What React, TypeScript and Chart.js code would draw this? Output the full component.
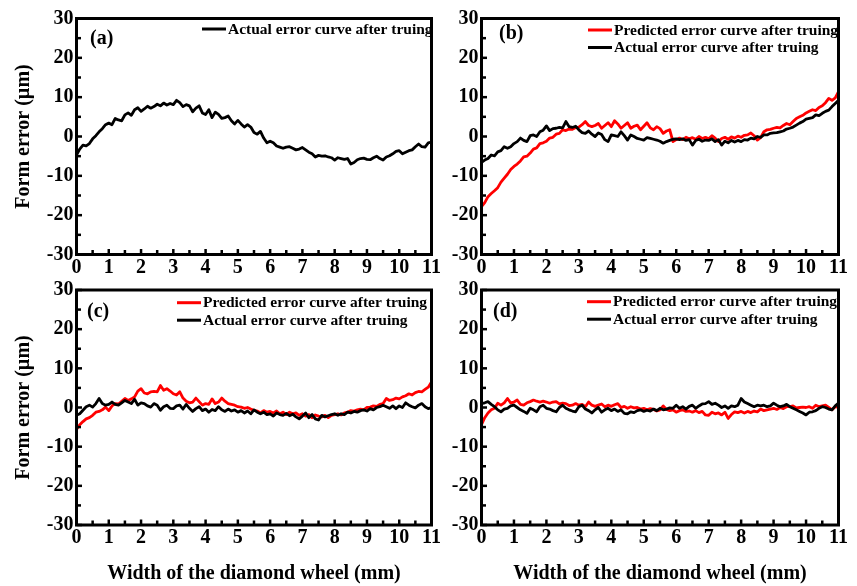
import React, { useEffect, useRef } from "react";
import { Chart, registerables } from "chart.js";

Chart.register(...registerables);

// ---------------- data ----------------
const xMm = [
  0, 0.1, 0.2, 0.3, 0.4, 0.5, 0.6, 0.7, 0.8, 0.9,
  1, 1.1, 1.2, 1.3, 1.4, 1.5, 1.6, 1.7, 1.8, 1.9,
  2, 2.1, 2.2, 2.3, 2.4, 2.5, 2.6, 2.7, 2.8, 2.9,
  3, 3.1, 3.2, 3.3, 3.4, 3.5, 3.6, 3.7, 3.8, 3.9,
  4, 4.1, 4.2, 4.3, 4.4, 4.5, 4.6, 4.7, 4.8, 4.9,
  5, 5.1, 5.2, 5.3, 5.4, 5.5, 5.6, 5.7, 5.8, 5.9,
  6, 6.1, 6.2, 6.3, 6.4, 6.5, 6.6, 6.7, 6.8, 6.9,
  7, 7.1, 7.2, 7.3, 7.4, 7.5, 7.6, 7.7, 7.8, 7.9,
  8, 8.1, 8.2, 8.3, 8.4, 8.5, 8.6, 8.7, 8.8, 8.9,
  9, 9.1, 9.2, 9.3, 9.4, 9.5, 9.6, 9.7, 9.8, 9.9,
  10, 10.1, 10.2, 10.3, 10.4, 10.5, 10.6, 10.7, 10.8, 10.9,
  11,
];

const aActual = [
  -4.7, -3.2, -2.2, -2.4, -1.8, -0.6, 0.2, 1.2, 2.0, 3.0,
  3.4, 3.0, 4.6, 4.2, 4.0, 5.5, 6.0, 5.4, 6.8, 7.3,
  6.4, 7.0, 7.7, 7.2, 7.6, 8.2, 7.8, 8.5, 8.0, 8.4,
  8.1, 9.2, 8.6, 7.6, 8.1, 7.8, 6.3, 7.2, 7.8, 6.0,
  5.6, 6.8, 4.8, 6.2, 5.6, 4.6, 4.8, 5.2, 4.0, 3.2,
  4.1, 3.2, 2.4, 3.0, 2.4, 1.0, 0.6, 1.3, -0.4, -1.6,
  -1.2, -1.6, -2.4, -2.7, -3.0, -2.7, -2.6, -3.0, -3.4, -3.2,
  -2.8, -3.4, -4.0, -4.4, -5.2, -4.8, -5.0, -4.9, -5.2, -5.4,
  -6.0, -5.4, -5.6, -5.8, -5.6, -7.0, -6.6, -5.9, -5.6, -5.5,
  -5.8, -5.9, -5.4, -5.0, -5.6, -6.0, -5.2, -4.9, -4.4, -3.8,
  -3.6, -4.4, -4.0, -3.6, -3.4, -2.6, -1.9, -2.6, -2.7, -1.6,
  -1.4,
];

const bPredicted = [
  -17.8, -16.8, -15.3, -14.5, -13.8, -13.0, -11.6, -10.6, -9.6, -8.4,
  -7.6, -7.0, -6.2, -5.2, -5.0, -4.2, -3.2, -2.9, -1.8, -1.6,
  -1.2, -0.4, -0.2, 0.6, 0.8, 1.7, 1.5, 1.9, 1.8, 2.3,
  2.4, 3.0, 3.8, 2.8, 2.5, 2.8, 3.3, 2.1, 2.8, 3.5,
  2.5, 4.0, 3.2, 2.1, 2.8, 3.5, 2.1, 2.6, 2.9, 1.7,
  2.6, 3.5, 2.2, 1.7, 2.5, 2.0, 0.8, 1.4, 1.7, -1.3,
  -0.8, -0.4, -0.8, -0.2, -0.6, -0.3, -0.7, 0.0, -0.5, -0.2,
  -0.6, 0.2, -0.4, -1.3, -0.5, -0.2, -0.7, -0.1, -0.4, 0.1,
  -0.2, 0.3, 0.4, 0.9, 0.2, -0.9, -0.3, 1.2, 1.7, 1.8,
  2.1, 2.3, 2.2, 2.8, 3.3, 3.0, 3.8, 4.6, 5.0, 5.4,
  6.0, 6.4, 6.8, 6.6, 7.4, 7.8, 8.6, 9.7, 9.2, 9.8,
  11.4,
];

const bActual = [
  -6.6, -6.0, -5.6, -4.7, -4.9, -3.9, -3.6, -2.6, -3.0, -2.6,
  -1.8, -1.3, -0.4, -1.0, -1.3, 0.2, 0.4, 0.0, 1.2, 1.6,
  2.7, 1.5, 2.0, 2.1, 2.3, 2.2, 3.8, 2.5, 2.3, 2.6,
  1.7, 1.0, 0.8, 1.4, 0.6, 0.0, 0.9, 0.5, -0.8, -1.3,
  0.4, 0.2, 0.0, 1.2, 0.2, -0.9, 0.4, 0.0, -0.5, -0.7,
  -0.9, -0.3, -0.5, -0.7, -0.9, -1.2, -1.7, -1.3, -1.0, -0.7,
  -0.6, -0.8, -0.6, -1.0, -0.8, -2.2, -1.0, -0.7, -1.2, -0.9,
  -1.0, -0.6, -1.3, -0.8, -2.2, -1.2, -1.6, -1.0, -1.4, -1.0,
  -1.3, -0.8, -0.9, -0.4, -0.6, 0.0, -0.2, 0.4, 0.4, 0.8,
  0.9, 1.0, 1.2, 1.4, 1.9, 2.1, 2.4, 2.9, 3.4, 3.8,
  4.4, 4.6, 4.8, 5.5, 5.3, 5.9, 6.4, 6.7, 7.6, 8.4,
  9.2,
];

const cPredicted = [
  -5.6, -4.4, -3.6, -2.9, -2.6, -2.0, -1.2, -1.0, -0.6, 0.1,
  -0.8, 0.4, 1.0, 0.9, 1.6, 2.3, 1.8, 2.2, 2.7, 4.2,
  4.8, 3.7, 3.5, 4.0, 4.1, 4.0, 5.6, 4.4, 4.8, 4.2,
  3.5, 3.2, 4.0, 2.4, 1.6, 1.2, 1.4, 2.4, 1.5, 0.6,
  1.0, 0.8, 2.2, 1.0, 1.4, 2.4, 1.6, 1.0, 0.8, 0.6,
  0.2, 0.1, -0.2, 0.0, -0.4, -0.7, -0.9, -1.4, -0.8, -1.2,
  -1.0, -1.4, -0.9, -1.6, -1.2, -1.8, -1.2, -1.6, -1.4, -2.0,
  -1.6, -2.2, -1.8, -2.6, -1.9, -2.2, -2.4, -2.0, -2.6, -2.0,
  -1.8, -1.6, -1.9, -1.4, -1.2, -0.8, -0.9, -0.6, -0.4, -0.6,
  0.0, 0.1, 0.4, 0.3, 0.8, 1.0, 2.3, 1.8, 2.0, 2.4,
  2.2, 2.7, 3.0, 3.5, 3.2, 3.8, 4.1, 4.0, 4.6, 5.2,
  6.5,
];

const cActual = [
  -2.0, -1.6, -0.7, 0.2, 0.6, 0.1, 1.0, 2.3, 1.0, 0.6,
  0.8, 1.4, 0.8, 0.6, 1.2, 1.8, 1.4, 1.0, 2.1, 0.6,
  1.2, 1.0, 0.4, 0.1, 1.0, 0.6, -0.7, 0.2, 0.6, -0.2,
  -0.3, 0.4, 0.6, -0.4, 0.8, -0.2, -1.0, -0.3, 0.2, -0.8,
  -0.4, -1.2, -0.5, -0.8, 0.2, -0.6, -1.0, -0.4, -0.9, -0.6,
  -1.2, -0.8, -1.4, -0.9, -1.6, -0.6, -1.2, -1.6, -1.2, -1.8,
  -1.6, -2.2, -1.4, -1.8, -2.0, -1.5, -2.1, -1.7, -2.4, -2.9,
  -2.2, -1.4, -2.6, -1.8, -2.9, -3.2, -2.0, -2.4, -2.1, -1.8,
  -1.6, -2.0, -1.6, -1.8, -1.2, -1.4, -1.0, -1.2, -0.8, -0.6,
  -0.9, -0.3, -0.6, 0.0, 0.2, 0.6, 0.2, -0.2, 0.4, -0.3,
  0.4, 0.0, 1.2, 0.6, 0.2, -0.1, 0.6, 1.0, 0.2, -0.3,
  0.0,
];

const dPredicted = [
  -4.4, -2.6, -1.4, -0.6, -0.2, 1.1, 0.6, 1.2, 2.3, 1.2,
  1.4, 1.9, 0.8, 0.6, 1.2, 1.5, 1.9, 1.6, 1.4, 1.6,
  1.4, 1.1, 1.4, 1.5, 0.9, 1.1, 1.0, 0.5, 0.6, 1.0,
  0.6, 0.8, 0.2, 1.4, 0.6, 0.3, 0.6, 0.9, 0.2, 0.6,
  0.3, 0.7, 1.0, 0.0, 0.3, -0.2, 0.2, -0.1, 0.0, -0.4,
  -0.2, -0.6, -0.3, -0.5, -0.9, -0.6, 0.4, -0.5, -0.8, -0.6,
  -1.2, -0.8, -0.6, -1.0, -0.9, -1.2, -0.8, -1.3, -1.0, -1.9,
  -2.0, -1.2, -1.6, -1.4, -1.9, -1.2, -2.8, -1.8, -1.1, -1.3,
  -1.0, -1.4, -1.0, -1.3, -0.9, -1.1, -0.4, -0.8, -0.6, -0.4,
  -0.2, -0.5, 0.0, -0.3, 0.2, 0.2, 0.4, -0.1, 0.0, 0.1,
  0.0, 0.2, -0.2, 0.6, 0.2, 0.4, 0.6, 0.0, -0.6, 0.2,
  0.0,
];

const dActual = [
  1.0, 1.2, 1.5, 0.8, 0.2, -0.6, -1.1, -0.4, -0.2, 0.4,
  0.6, 0.0, -0.6, -1.0, -1.5, -0.2, -0.6, -1.1, 0.2, 0.6,
  -0.2, -0.4, -0.8, -1.1, 0.0, 0.6, -0.2, -0.6, -0.9, -1.1,
  0.2, 0.6, -0.4, -0.8, -1.4, -0.6, 0.0, -1.2, -0.6, -0.2,
  -0.8, -0.4, -1.0, -0.6, -1.5, -1.6, -1.1, -1.3, -0.8, -0.6,
  -1.0, -0.7, -0.9, -0.4, -0.8, -0.2, -0.6, -0.4, -0.1, -0.2,
  0.6, -0.2, 0.2, -0.4, 0.3, 0.6, -0.2, 0.4, 0.9, 1.0,
  1.5, 0.8, 1.1, 0.6, 0.0, 0.4, -0.2, 0.4, 0.2, 0.6,
  2.3, 1.4, 1.0, 0.6, 0.2, 0.6, 0.4, 0.6, 0.2, 0.4,
  1.1, 0.6, 0.2, 0.4, 0.8, 0.2, -0.2, -0.6, -1.0, -1.4,
  -1.9, -1.2, -1.1, -0.8, -0.2, 0.2, 0.0, -0.4, -0.6, 0.4,
  1.1,
];

const xTickLabels = [0, 1, 2, 3, 4, 5, 6, 7, 8, 9, 10, 11];
const xMinorTicks = [0.5, 1.5, 2.5, 3.5, 4.5, 5.5, 6.5, 7.5, 8.5, 9.5, 10.5];
const yTickLabels = [-30, -20, -10, 0, 10, 20, 30];
const yMinorTicks = [-25, -15, -5, 5, 15, 25];

const panelLabels = ["(a)", "(b)", "(c)", "(d)"];
const predictedLabel = "Predicted error curve after truing";
const actualLabel = "Actual error curve after truing";
const xTitle = "Width of the diamond wheel (mm)";
const yTitle = "Form error (\u00b5m)";

// ---------------- layout / styling ----------------
const FONT = "'Liberation Serif', 'Times New Roman', serif";
const RED = "#ff0000";
const BLACK = "#000000";

type Series = { name: string; values: number[]; color: string; order: number };
type PanelSpec = {
  label: string;
  series: Series[];
  left: number;
  top: number;
  width: number;
  height: number;
  padTop: number;
  padRight: number;
  yWidth: number;
  xHeight: number;
  showYTitle: boolean;
  showXTitle: boolean;
  legendDx: number;
  legendDy: number;
  labelDx: number;
  labelDy: number;
};

const panels: PanelSpec[] = [
  {
    label: panelLabels[0],
    series: [{ name: actualLabel, values: aActual, color: BLACK, order: 1 }],
    left: 0, top: 0, width: 450, height: 280,
    padTop: 18.5, padRight: 18.5, yWidth: 76.5, xHeight: 25.5,
    showYTitle: true, showXTitle: false,
    legendDx: 125.5, legendDy: 10.5, labelDx: 13.5, labelDy: 20.5,
  },
  {
    label: panelLabels[1],
    series: [
      { name: predictedLabel, values: bPredicted, color: RED, order: 2 },
      { name: actualLabel, values: bActual, color: BLACK, order: 1 },
    ],
    left: 440, top: 0, width: 417, height: 280,
    padTop: 18.5, padRight: 18.5, yWidth: 41.5, xHeight: 25.5,
    showYTitle: false, showXTitle: false,
    legendDx: 106.5, legendDy: 11.5, labelDx: 17.5, labelDy: 15,
  },
  {
    label: panelLabels[2],
    series: [
      { name: predictedLabel, values: cPredicted, color: RED, order: 2 },
      { name: actualLabel, values: cActual, color: BLACK, order: 1 },
    ],
    left: 0, top: 280, width: 450, height: 306,
    padTop: 10, padRight: 18.5, yWidth: 76.5, xHeight: 61,
    showYTitle: true, showXTitle: true,
    legendDx: 100.5, legendDy: 12.7, labelDx: 10.5, labelDy: 21.5,
  },
  {
    label: panelLabels[3],
    series: [
      { name: predictedLabel, values: dPredicted, color: RED, order: 2 },
      { name: actualLabel, values: dActual, color: BLACK, order: 1 },
    ],
    left: 440, top: 280, width: 417, height: 306,
    padTop: 10, padRight: 18.5, yWidth: 41.5, xHeight: 61,
    showYTitle: false, showXTitle: true,
    legendDx: 105.5, legendDy: 11.7, labelDx: 11.5, labelDy: 21.5,
  },
];

function makeFramePlugin(spec: PanelSpec) {
  return {
    id: "frameAndLegend",
    afterDatasetsDraw(chart: any) {
      const { ctx, chartArea } = chart;
      const { left, right, top, bottom } = chartArea;
      const xs = chart.scales.x;
      const ys = chart.scales.y;
      ctx.save();
      ctx.strokeStyle = "#000";
      ctx.lineCap = "butt";
      // inward tick marks
      ctx.lineWidth = 2.5;
      const drawX = (v: number, len: number) => {
        const px = xs.getPixelForValue(v);
        ctx.beginPath();
        ctx.moveTo(px, bottom);
        ctx.lineTo(px, bottom - len);
        ctx.stroke();
      };
      const drawY = (v: number, len: number) => {
        const py = ys.getPixelForValue(v);
        ctx.beginPath();
        ctx.moveTo(left, py);
        ctx.lineTo(left + len, py);
        ctx.stroke();
      };
      xTickLabels.forEach((v) => drawX(v, 5.5));
      xMinorTicks.forEach((v) => drawX(v, 4.5));
      yTickLabels.forEach((v) => drawY(v, 5.5));
      yMinorTicks.forEach((v) => drawY(v, 4.5));
      // frame
      ctx.lineWidth = 3;
      ctx.lineJoin = "miter";
      ctx.strokeRect(left, top, right - left, bottom - top);

      // panel label
      ctx.fillStyle = "#000";
      ctx.font = `bold 20px ${FONT}`;
      ctx.textAlign = "left";
      ctx.textBaseline = "middle";
      ctx.fillText(spec.label, left + spec.labelDx, top + spec.labelDy);

      // legend
      ctx.font = `bold 15.5px ${FONT}`;
      spec.series.forEach((s, i) => {
        const y = top + spec.legendDy + i * 17.5;
        const x0 = left + spec.legendDx;
        ctx.strokeStyle = s.color;
        ctx.lineWidth = 3;
        ctx.beginPath();
        ctx.moveTo(x0, y);
        ctx.lineTo(x0 + 24, y);
        ctx.stroke();
        ctx.fillStyle = "#000";
        ctx.fillText(s.name, x0 + 26, y + 0.5);
      });
      ctx.restore();
    },
  };
}

function Panel({ spec }: { spec: PanelSpec }) {
  const ref = useRef<HTMLCanvasElement | null>(null);
  useEffect(() => {
    const canvas = ref.current;
    if (!canvas) return;
    const tickFont = { family: FONT, weight: "bold" as const, size: 20 };
    const chart = new Chart(canvas, {
      type: "line",
      data: {
        datasets: spec.series.map((s) => ({
          label: s.name,
          data: xMm.map((x, j) => ({ x, y: s.values[j] })),
          borderColor: s.color,
          backgroundColor: s.color,
          borderWidth: 2.8,
          pointRadius: 0,
          tension: 0,
          borderJoinStyle: "round" as const,
          order: s.order,
        })),
      },
      options: {
        animation: false,
        responsive: false,
        maintainAspectRatio: false,
        events: [],
        layout: { padding: { top: spec.padTop, right: spec.padRight, left: 0, bottom: 0 } },
        plugins: { legend: { display: false }, tooltip: { enabled: false } },
        scales: {
          x: {
            type: "linear",
            min: 0,
            max: 11,
            afterBuildTicks: (s: any) => {
              s.ticks = xTickLabels.map((v) => ({ value: v }));
            },
            afterFit: (s: any) => {
              s.height = spec.xHeight;
              s.paddingLeft = 0;
              s.paddingRight = 0;
            },
            grid: { display: false, drawTicks: false },
            border: { display: false },
            ticks: { font: tickFont, color: "#000", padding: 1, maxRotation: 0, autoSkip: false },
            title: {
              display: spec.showXTitle,
              text: xTitle,
              color: "#000",
              font: { family: FONT, weight: "bold", size: 20 },
              padding: { top: 0, bottom: 0 },
            },
          },
          y: {
            type: "linear",
            min: -30,
            max: 30,
            afterBuildTicks: (s: any) => {
              s.ticks = yTickLabels.map((v) => ({ value: v }));
            },
            afterFit: (s: any) => {
              s.width = spec.yWidth;
              s.paddingTop = 0;
              s.paddingBottom = 0;
            },
            grid: { display: false, drawTicks: false },
            border: { display: false },
            ticks: { font: tickFont, color: "#000", padding: 3, autoSkip: false },
            title: {
              display: spec.showYTitle,
              text: yTitle,
              color: "#000",
              font: { family: FONT, weight: "bold", size: 20 },
              padding: { top: 12, bottom: 0 },
            },
          },
        },
      } as any,
      plugins: [makeFramePlugin(spec)],
    });
    return () => chart.destroy();
  }, [spec]);
  return (
    <canvas
      ref={ref}
      width={spec.width}
      height={spec.height}
      style={{
        position: "absolute",
        left: spec.left,
        top: spec.top,
        width: spec.width,
        height: spec.height,
      }}
    />
  );
}

export default function App() {
  return (
    <div
      style={{
        position: "absolute",
        left: 0,
        top: 0,
        width: 857,
        height: 586,
        background: "#ffffff",
        overflow: "hidden",
      }}
    >
      {panels.map((p) => (
        <Panel key={p.label} spec={p} />
      ))}
    </div>
  );
}
